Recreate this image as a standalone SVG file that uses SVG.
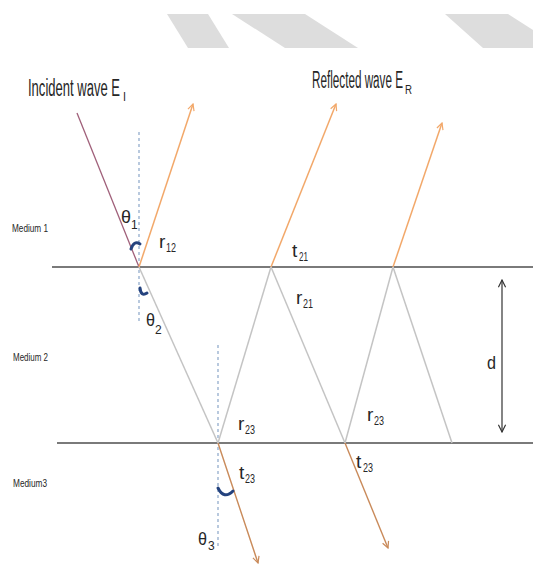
<svg xmlns="http://www.w3.org/2000/svg" width="533" height="566" viewBox="0 0 533 566">
<style>
.deco{fill:#dddddd}
.iface{stroke:#7a7a7a;stroke-width:2;fill:none}
.inc{stroke:#a0607a;stroke-width:1.3;fill:none}
.refl{stroke:#f2a86a;stroke-width:1.5;fill:none}
.trans{stroke:#c98a5a;stroke-width:1.4;fill:none}
.inner{stroke:#c4c4c4;stroke-width:1.5;fill:none}
.normal{stroke:#8aa6c8;stroke-width:1.2;stroke-dasharray:3 3;fill:none}
.arc{stroke:#24427e;stroke-width:3;fill:none;stroke-linecap:round}
.dim{stroke:#333333;stroke-width:1.2;fill:none}
text{font-family:"Liberation Sans Narrow","Liberation Sans",Arial,sans-serif;fill:#262626}
.big{font-size:23px}
.lab{font-size:19px}
.sub{font-size:12px}
.med{font-size:11px}
</style>
<defs>
<marker id="ao" viewBox="0 0 10 10" refX="9" refY="5" markerWidth="8" markerHeight="8" markerUnits="userSpaceOnUse" orient="auto">
<path d="M1,1 L9,5 L1,9" fill="none" stroke="#f2a86a" stroke-width="1.5"/>
</marker>
<marker id="at" viewBox="0 0 10 10" refX="9" refY="5" markerWidth="8" markerHeight="8" markerUnits="userSpaceOnUse" orient="auto">
<path d="M1,1 L9,5 L1,9" fill="none" stroke="#c98a5a" stroke-width="1.5"/>
</marker>
<marker id="ad" viewBox="0 0 10 10" refX="9" refY="5" markerWidth="9" markerHeight="9" markerUnits="userSpaceOnUse" orient="auto-start-reverse">
<path d="M1,1 L9,5 L1,9" fill="none" stroke="#333333" stroke-width="1.3"/>
</marker>
</defs>
<g id="decoration">
<polygon class="deco" points="167,14 208,14 229,48 188,48"/>
<polygon class="deco" points="232,14 305,14 358,48 285,48"/>
<polygon class="deco" points="445,14 508,14 533,30 533,48 483,48"/>
</g>
<g id="interfaces">
<line class="iface" x1="52" y1="267" x2="533" y2="267"/>
<line class="iface" x1="57" y1="443" x2="533" y2="443"/>
</g>
<g id="connectors">
<line class="normal" x1="139" y1="132" x2="139" y2="322"/>
<line class="normal" x1="218" y1="345" x2="218" y2="548"/>
<line class="inc" x1="77" y1="113" x2="139" y2="267"/>
<line class="refl" x1="139" y1="267" x2="193" y2="104" marker-end="url(#ao)"/>
<line class="inner" x1="139" y1="267" x2="218" y2="443"/>
<line class="inner" x1="218" y1="443" x2="271" y2="267"/>
<line class="refl" x1="271" y1="267" x2="336" y2="104" marker-end="url(#ao)"/>
<line class="inner" x1="271" y1="267" x2="345" y2="443"/>
<line class="inner" x1="345" y1="443" x2="393" y2="267"/>
<line class="refl" x1="393" y1="267" x2="442" y2="123" marker-end="url(#ao)"/>
<line class="inner" x1="393" y1="267" x2="452" y2="443"/>
<line class="trans" x1="218" y1="443" x2="258" y2="563" marker-end="url(#at)"/>
<line class="trans" x1="345" y1="443" x2="388" y2="548" marker-end="url(#at)"/>
<line class="dim" x1="502" y1="280" x2="502" y2="432" marker-start="url(#ad)" marker-end="url(#ad)"/>
</g>
<g id="angles">
<path class="arc" d="M131,249 Q134,240 140,244"/>
<path class="arc" d="M140,288 Q141,297 147,293"/>
<path class="arc" d="M218,488 Q224,500 233,491"/>
</g>
<g id="labels">
<text class="big" x="28" y="96" textLength="92" lengthAdjust="spacingAndGlyphs">Incident wave E</text>
<text class="sub" x="123" y="101" textLength="3" lengthAdjust="spacingAndGlyphs">I</text>
<text class="big" x="312" y="88" textLength="91" lengthAdjust="spacingAndGlyphs">Reflected wave E</text>
<text class="sub" x="405" y="94" textLength="7" lengthAdjust="spacingAndGlyphs">R</text>
<text class="med" x="12" y="232" textLength="36" lengthAdjust="spacingAndGlyphs">Medium 1</text>
<text class="med" x="13" y="361" textLength="35" lengthAdjust="spacingAndGlyphs">Medium 2</text>
<text class="med" x="13" y="487" textLength="34" lengthAdjust="spacingAndGlyphs">Medium3</text>
<text class="lab" x="121" y="223" textLength="10" lengthAdjust="spacingAndGlyphs">θ</text><text class="sub" x="131" y="229">1</text>
<text class="lab" x="159" y="248">r</text><text class="sub" x="166" y="252" textLength="10" lengthAdjust="spacingAndGlyphs">12</text>
<text class="lab" x="292" y="257">t</text><text class="sub" x="299" y="261" textLength="9" lengthAdjust="spacingAndGlyphs">21</text>
<text class="lab" x="296" y="304">r</text><text class="sub" x="303" y="308" textLength="10" lengthAdjust="spacingAndGlyphs">21</text>
<text class="lab" x="146" y="326" textLength="9" lengthAdjust="spacingAndGlyphs">θ</text><text class="sub" x="155" y="334">2</text>
<text class="lab" x="238" y="430">r</text><text class="sub" x="245" y="434" textLength="10" lengthAdjust="spacingAndGlyphs">23</text>
<text class="lab" x="239" y="479">t</text><text class="sub" x="245" y="483" textLength="10" lengthAdjust="spacingAndGlyphs">23</text>
<text class="lab" x="198" y="545" textLength="9" lengthAdjust="spacingAndGlyphs">θ</text><text class="sub" x="208" y="550">3</text>
<text class="lab" x="367" y="421">r</text><text class="sub" x="374" y="425" textLength="10" lengthAdjust="spacingAndGlyphs">23</text>
<text class="lab" x="356" y="468">t</text><text class="sub" x="363" y="472" textLength="10" lengthAdjust="spacingAndGlyphs">23</text>
<text class="lab" x="487" y="369" textLength="9" lengthAdjust="spacingAndGlyphs">d</text>
</g>
</svg>
